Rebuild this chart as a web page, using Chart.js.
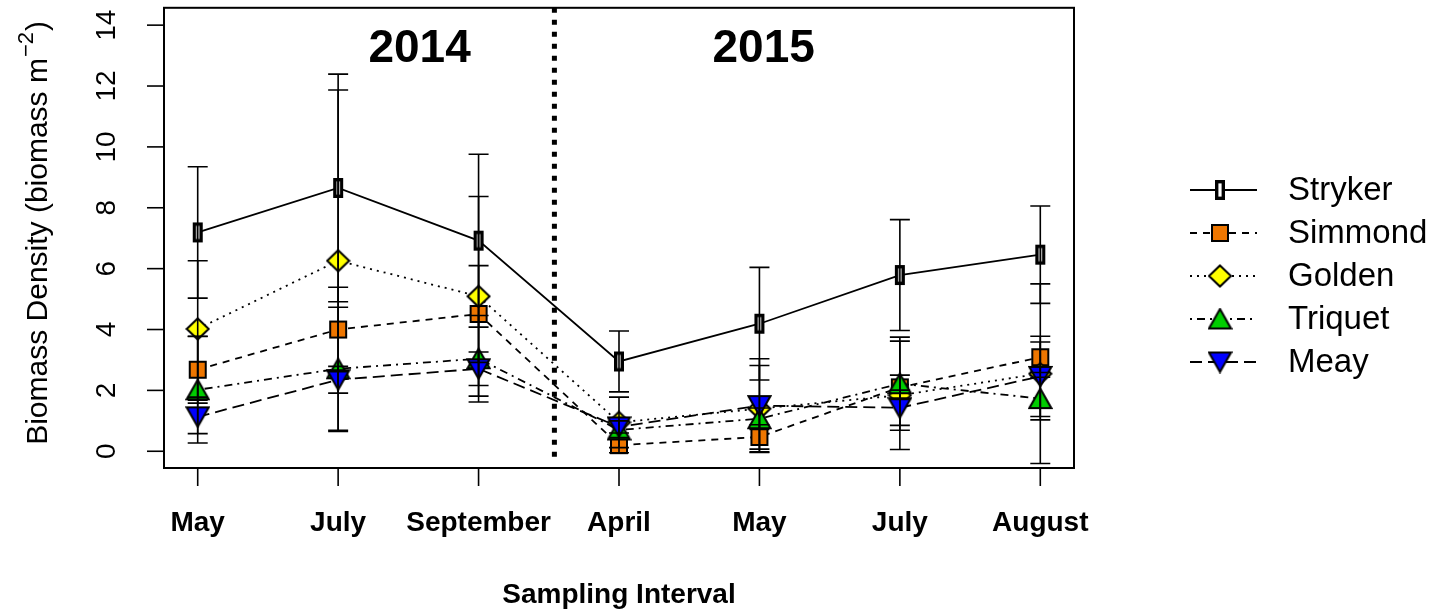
<!DOCTYPE html>
<html><head><meta charset="utf-8">
<script src="https://cdn.jsdelivr.net/npm/chart.js@4/dist/chart.umd.min.js"></script>
<style>html,body{margin:0;padding:0;background:#fff;}#wrap{width:1448px;height:611px;position:relative;}</style>
</head><body><div id="wrap"><canvas id="c" width="1448" height="611"></canvas></div>
<script>
// ---- data ----
const categories = ["May", "July", "September", "April", "May", "July", "August"];
const xPositions = [1, 2, 3, 4, 5, 6, 7];
const yTicks = [0, 2, 4, 6, 8, 10, 12, 14];
const seriesNames = ["Stryker", "Simmond", "Golden", "Triquet", "Meay"];
const stryker    = [7.19, 8.65, 6.92, 2.95, 4.19, 5.79, 6.46];
const strykerErr = [2.16, 3.74, 2.84, 1.00, 1.85, 1.82, 1.60];
const simmond    = [2.68, 4.00, 4.51, 0.20, 0.47, 2.10, 3.09];
const simmondErr = [1.10, 1.39, 1.59, 0.25, 0.40, 0.40, 0.50];
const golden     = [4.02, 6.26, 5.09, 0.95, 1.40, 1.84, 2.55];
const goldenErr  = [2.24, 5.61, 3.28, 0.83, 1.42, 1.78, 2.95];
const triquet    = [2.02, 2.71, 3.04, 0.70, 1.07, 2.22, 1.73];
const triquetErr = [1.75, 2.02, 1.42, 0.30, 0.35, 1.53, 0.70];
const meay       = [1.13, 2.35, 2.71, 0.80, 1.50, 1.43, 2.46];
const meayErr    = [0.55, 0.44, 0.55, 0.20, 1.54, 0.58, 1.32];
const yearLabels = ["2014", "2015"];
const yearLabelX = [2.58, 5.03];
const yearLabelY = 13.2;
const dividerAt = 3.54;

const FONT = '"Liberation Sans", Arial, Helvetica, sans-serif';

function mk(w, h, draw) {
  const c = document.createElement('canvas'); c.width = w; c.height = h;
  const g = c.getContext('2d'); draw(g); return c;
}
const markers = [
  mk(12, 22, g => { g.fillStyle = '#fff'; g.fillRect(1, 1, 10, 20); g.strokeStyle = '#000'; g.lineWidth = 3.4; g.strokeRect(2.7, 2.7, 6.6, 16.6); }),
  mk(20, 20, g => { g.fillStyle = '#ee7600'; g.fillRect(2, 2, 16, 16); g.strokeStyle = '#000'; g.lineWidth = 2; g.strokeRect(2, 2, 16, 16); }),
  mk(25, 24, g => { g.beginPath(); g.moveTo(12.5, 1.5); g.lineTo(23.5, 12); g.lineTo(12.5, 22.5); g.lineTo(1.5, 12); g.closePath(); g.fillStyle = '#ffff00'; g.fill(); g.strokeStyle = '#000'; g.lineWidth = 2; g.stroke(); }),
  mk(25, 23, g => { g.beginPath(); g.moveTo(12.5, 1.5); g.lineTo(23.5, 21); g.lineTo(1.5, 21); g.closePath(); g.fillStyle = '#00cd00'; g.fill(); g.strokeStyle = '#000'; g.lineWidth = 2; g.stroke(); }),
  mk(25, 23, g => { g.beginPath(); g.moveTo(1.5, 2); g.lineTo(23.5, 2); g.lineTo(12.5, 21.5); g.closePath(); g.fillStyle = '#0000ff'; g.fill(); g.strokeStyle = '#000'; g.lineWidth = 2; g.stroke(); })
];
const dashes = [[], [7, 6], [2, 5], [2, 5, 8, 5], [12, 6]];
const values = [stryker, simmond, golden, triquet, meay];
const errors = [strykerErr, simmondErr, goldenErr, triquetErr, meayErr];

const datasets = seriesNames.map((name, s) => ({
  label: name,
  data: xPositions.map((x, i) => ({ x: x, y: values[s][i] })),
  borderColor: '#000', borderWidth: 1.8, borderDash: dashes[s],
  pointStyle: markers[s], pointRadius: 6, pointHoverRadius: 6,
  fill: false, tension: 0, order: 5 - s, clip: false
}));

const rPlot = {
  id: 'rPlot',
  beforeDatasetsDraw(chart) {
    const ctx = chart.ctx, xs = chart.scales.x;
    const xp = xs.getPixelForValue(dividerAt);
    ctx.save();
    ctx.strokeStyle = '#000'; ctx.lineWidth = 5; ctx.setLineDash([5, 7]); ctx.lineCap = 'butt';
    ctx.beginPath(); ctx.moveTo(xp, chart.chartArea.top); ctx.lineTo(xp, chart.chartArea.bottom - 8); ctx.stroke();
    ctx.restore();
  },
  afterDatasetsDraw(chart) {
    const ctx = chart.ctx, xs = chart.scales.x, ys = chart.scales.y;
    ctx.save();
    ctx.strokeStyle = '#000'; ctx.lineWidth = 1.6; ctx.setLineDash([]);
    values.forEach((vals, s) => {
      vals.forEach((v, i) => {
        const x = xs.getPixelForValue(xPositions[i]);
        const yt = ys.getPixelForValue(v + errors[s][i]);
        const yb = ys.getPixelForValue(v - errors[s][i]);
        ctx.beginPath();
        ctx.moveTo(x, yt); ctx.lineTo(x, yb);
        ctx.moveTo(x - 10, yt); ctx.lineTo(x + 10, yt);
        ctx.moveTo(x - 10, yb); ctx.lineTo(x + 10, yb);
        ctx.stroke();
      });
    });
    ctx.restore();
  },
  afterDraw(chart) {
    const ctx = chart.ctx, xs = chart.scales.x, ys = chart.scales.y, a = chart.chartArea;
    ctx.save();
    ctx.strokeStyle = '#000'; ctx.fillStyle = '#000'; ctx.setLineDash([]);
    // box
    ctx.lineWidth = 2;
    ctx.strokeRect(a.left, a.top, a.right - a.left, a.bottom - a.top);
    // x ticks and labels
    ctx.lineWidth = 1.6;
    ctx.font = 'bold 28px ' + FONT; ctx.textAlign = 'center'; ctx.textBaseline = 'middle';
    xPositions.forEach((xv, i) => {
      const x = xs.getPixelForValue(xv);
      ctx.beginPath(); ctx.moveTo(x, a.bottom); ctx.lineTo(x, a.bottom + 18); ctx.stroke();
      ctx.fillText(categories[i], x, 523);
    });
    // y ticks and labels
    ctx.font = '28px ' + FONT;
    yTicks.forEach(v => {
      const y = ys.getPixelForValue(v);
      ctx.beginPath(); ctx.moveTo(a.left, y); ctx.lineTo(a.left - 17, y); ctx.stroke();
      ctx.save(); ctx.translate(107, y); ctx.rotate(-Math.PI / 2);
      ctx.fillText(String(v), 0, 0); ctx.restore();
    });
    // x title
    ctx.font = 'bold 28px ' + FONT;
    ctx.fillText('Sampling Interval', (a.left + a.right) / 2, 595);
    // y title with superscript
    ctx.save(); ctx.translate(36, (a.top + a.bottom) / 2 - 4); ctx.rotate(-Math.PI / 2);
    const main = 'Biomass Density (biomass m', sup = '\u22122', end = ')';
    ctx.font = '30px ' + FONT; const w1 = ctx.measureText(main).width, w3 = ctx.measureText(end).width;
    ctx.font = '22px ' + FONT; const w2 = ctx.measureText(sup).width;
    let x0 = -(w1 + w2 + w3) / 2;
    ctx.textAlign = 'left'; ctx.textBaseline = 'alphabetic';
    ctx.font = '30px ' + FONT; ctx.fillText(main, x0, 11);
    ctx.font = '22px ' + FONT; ctx.fillText(sup, x0 + w1 + 1, -3);
    ctx.font = '30px ' + FONT; ctx.fillText(end, x0 + w1 + w2 + 2, 11);
    ctx.restore();
    // year labels
    ctx.font = 'bold 46px ' + FONT; ctx.textAlign = 'center'; ctx.textBaseline = 'middle';
    yearLabels.forEach((t, i) => ctx.fillText(t, xs.getPixelForValue(yearLabelX[i]), ys.getPixelForValue(yearLabelY)));
    // legend
    const ly0 = 190, lstep = 43;
    ctx.font = '33px ' + FONT; ctx.textAlign = 'left'; ctx.textBaseline = 'middle';
    seriesNames.forEach((n, s) => {
      const y = ly0 + s * lstep;
      ctx.lineWidth = 1.8; ctx.setLineDash(dashes[s]);
      ctx.beginPath(); ctx.moveTo(1190, y); ctx.lineTo(1257, y); ctx.stroke();
      ctx.setLineDash([]);
      const m = markers[s];
      ctx.drawImage(m, 1220 - m.width / 2, y - m.height / 2);
      ctx.fillText(n, 1288, y + 1);
    });
    ctx.restore();
  }
};

new Chart(document.getElementById('c'), {
  type: 'line',
  data: { datasets },
  options: {
    responsive: false, animation: false, devicePixelRatio: 1,
    layout: { padding: { left: 164, top: 6, right: 374, bottom: 143 } },
    plugins: { legend: { display: false }, tooltip: { enabled: false } },
    scales: {
      x: { type: 'linear', min: 0.76, max: 7.24, display: false },
      y: { type: 'linear', min: -0.55, max: 14.57, display: false }
    }
  },
  plugins: [rPlot]
});
</script></body></html>
